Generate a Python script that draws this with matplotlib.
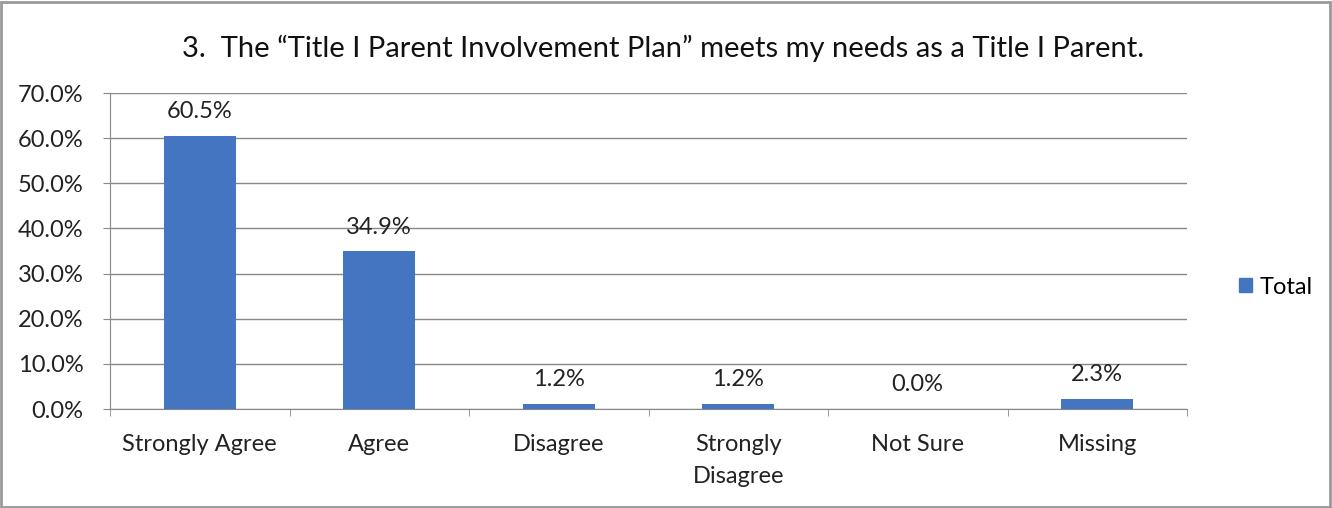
import matplotlib
matplotlib.use("Agg")
import matplotlib.pyplot as plt
from matplotlib.patches import Rectangle
import numpy as np

categories = ["Strongly Agree", "Agree", "Disagree", "Strongly\nDisagree", "Not Sure", "Missing"]
values = [60.5, 34.9, 1.2, 1.2, 0.0, 2.3]
yticks = [0, 10, 20, 30, 40, 50, 60, 70]
series_name = "Total"
title = "3.  The \u201cTitle I Parent Involvement Plan\u201d meets my needs as a Title I Parent."

plt.rcParams['font.family'] = ['Lato', 'DejaVu Sans']
color = "#4475C0"
fs = 17

W, H = 1332, 508
fig = plt.figure(figsize=(W/100, H/100), dpi=100)
ax = fig.add_axes([110/W, 1-409/H, (1187-110)/W, (409-93)/H])

x = np.arange(len(categories))
ax.bar(x, values, width=0.4, color=color, zorder=3)
ax.set_xlim(-0.5, len(categories)-0.5)
ax.set_ylim(0, 70)
ax.set_yticks(yticks)
ax.set_yticklabels([f"{v:.1f}%" for v in yticks], fontsize=fs, color="#222222")
ax.grid(axis="y", color="#888888", linewidth=1, zorder=0)
ax.set_xticks(x)
ax.set_xticklabels(categories, fontsize=fs, color="#222222", linespacing=1.65)
ax.tick_params(axis="x", length=0, pad=18)
ax.tick_params(axis="y", length=5, color="#888888", pad=14)
ax.set_xticks(np.arange(-0.5, len(categories)), minor=True)
ax.tick_params(axis="x", which="minor", length=5, color="#888888")
for s in ["top", "right"]:
    ax.spines[s].set_visible(False)
for s in ["left", "bottom"]:
    ax.spines[s].set_color("#888888")

for xi, v in zip(x, values):
    ax.annotate(f"{v:.1f}%", (xi, v), xytext=(0, 10), textcoords="offset points",
                ha="center", va="bottom", fontsize=fs, color="#222222")

fig.text(663/W, 1-48/H, title, ha="center", va="center", fontsize=21, color="#111111")

ax.legend([Rectangle((0, 0), 1, 1, color=color)], [series_name], loc="center left",
          bbox_to_anchor=(1218/W, 1-287/H), bbox_transform=fig.transFigure,
          frameon=False, fontsize=fs, handlelength=0.55, handleheight=0.55, handletextpad=0.3)

fig.patches.append(Rectangle((1/W, 1/H), 1-3/W, 1-3/H, transform=fig.transFigure,
                             fill=False, edgecolor="#999999", linewidth=2))

fig.savefig("out.png", dpi=100)
